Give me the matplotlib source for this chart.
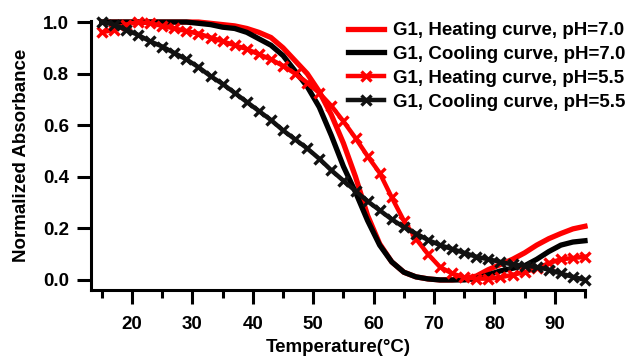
#!/usr/bin/env python3
"""Normalized absorbance vs temperature for G1 heating/cooling curves."""

import matplotlib

matplotlib.use("Agg")
import matplotlib.pyplot as plt
from matplotlib.ticker import MultipleLocator

# temperature grid (degC), every 2 degrees
temperature = list(range(15, 96, 2))

heat_ph70 = [1.00, 1.00, 1.00, 1.00, 1.00, 1.00, 1.00, 1.00, 1.00, 0.995,
             0.99, 0.985, 0.975, 0.96, 0.94, 0.90, 0.85, 0.80, 0.73, 0.64,
             0.53, 0.40, 0.25, 0.14, 0.07, 0.03, 0.012, 0.004, 0.0, 0.0,
             0.005, 0.015, 0.04, 0.06, 0.08, 0.105, 0.135, 0.16, 0.18, 0.198,
             0.208]
cool_ph70 = [1.00, 1.00, 1.00, 1.00, 1.00, 1.00, 1.00, 1.00, 0.995, 0.99,
             0.98, 0.975, 0.96, 0.935, 0.91, 0.87, 0.81, 0.75, 0.67, 0.56,
             0.44, 0.34, 0.23, 0.135, 0.07, 0.03, 0.012, 0.004, 0.0, 0.0,
             0.0, 0.005, 0.02, 0.035, 0.045, 0.055, 0.08, 0.11, 0.135, 0.147,
             0.152]
heat_ph55 = [0.96, 0.97, 0.99, 1.00, 0.995, 0.985, 0.975, 0.965, 0.955, 0.94,
             0.925, 0.91, 0.895, 0.875, 0.855, 0.83, 0.80, 0.765, 0.725, 0.675,
             0.615, 0.55, 0.48, 0.415, 0.32, 0.23, 0.16, 0.10, 0.05, 0.025,
             0.01, 0.005, 0.005, 0.01, 0.02, 0.03, 0.045, 0.065, 0.08, 0.085,
             0.09]
cool_ph55 = [1.00, 0.99, 0.97, 0.95, 0.925, 0.905, 0.88, 0.855, 0.825, 0.79,
             0.76, 0.725, 0.69, 0.655, 0.62, 0.58, 0.545, 0.51, 0.47, 0.425,
             0.385, 0.345, 0.305, 0.27, 0.235, 0.205, 0.18, 0.155, 0.135, 0.12,
             0.105, 0.09, 0.08, 0.07, 0.06, 0.055, 0.05, 0.04, 0.025, 0.012,
             0.0]

labels = [
    "G1, Heating curve, pH=7.0",
    "G1, Cooling curve, pH=7.0",
    "G1, Heating curve, pH=5.5",
    "G1, Cooling curve, pH=5.5",
]

RED = "#ff0000"
BLACK = "#000000"
FS = 13.5

plt.rcParams["font.family"] = ["Liberation Sans", "DejaVu Sans"]
plt.rcParams["font.weight"] = "bold"

fig = plt.figure(figsize=(6.28, 3.6), dpi=100)
ax = fig.add_axes([91 / 628, 70 / 360, 494 / 628, 269 / 360])

ax.plot(temperature, heat_ph70, color=RED, lw=3.8, label=labels[0], clip_on=False)
ax.plot(temperature, cool_ph70, color=BLACK, lw=3.8, label=labels[1], clip_on=False)
ax.plot(temperature, heat_ph55, color=RED, lw=3.2, marker="x", ms=7, mew=2.4,
        label=labels[2], clip_on=False)
ax.plot(temperature, cool_ph55, color="#111111", lw=3.2, marker="x", ms=7, mew=2.4,
        label=labels[3], clip_on=False)

ax.set_xlim(13.2, 95)
ax.set_ylim(-0.039, 1.004)
ax.xaxis.set_minor_locator(MultipleLocator(5))
ax.set_xticks([20, 30, 40, 50, 60, 70, 80, 90])
ax.set_yticks([0.0, 0.2, 0.4, 0.6, 0.8, 1.0])

for side in ("top", "right"):
    ax.spines[side].set_visible(False)
for side in ("left", "bottom"):
    ax.spines[side].set_linewidth(2.2)

ax.tick_params(axis="both", which="major", length=10, width=2.2, labelsize=FS)
ax.tick_params(axis="x", which="minor", length=6, width=2.2)
ax.tick_params(axis="x", which="major", pad=9)
ax.tick_params(axis="y", which="major", pad=6)
for lbl in ax.get_xticklabels() + ax.get_yticklabels():
    lbl.set_fontweight("bold")

ax.set_xlabel("Temperature(°C)", fontsize=FS, fontweight="bold", labelpad=4)
ax.set_ylabel("Normalized Absorbance", fontsize=FS, fontweight="bold", labelpad=9)

fig.legend(loc="upper left", bbox_to_anchor=(348 / 628, 1 - 22 / 360),
           frameon=False, handlelength=1.9, handletextpad=0.5,
           labelspacing=0.36, borderpad=0, borderaxespad=0, numpoints=1,
           prop={"weight": "bold", "size": FS})

fig.savefig("out.png", dpi=100)
